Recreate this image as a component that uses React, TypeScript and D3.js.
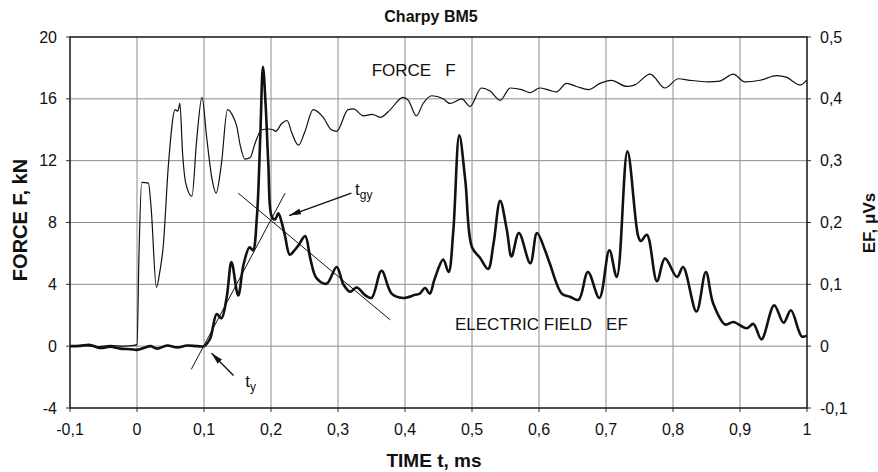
import React from "react";
import * as d3 from "d3";

const forceT = [-0.1, -0.08, -0.06, -0.04, -0.02, -0.005, 0.0, 0.003, 0.007, 0.017, 0.021, 0.029, 0.034, 0.039, 0.047, 0.057, 0.061, 0.064, 0.068, 0.073, 0.082, 0.089, 0.097, 0.104, 0.112, 0.118, 0.126, 0.135, 0.144, 0.149, 0.154, 0.161, 0.169, 0.176, 0.186, 0.196, 0.203, 0.207, 0.216, 0.224, 0.231, 0.241, 0.25, 0.263, 0.278, 0.29, 0.298, 0.315, 0.323, 0.338, 0.351, 0.363, 0.378, 0.397, 0.405, 0.417, 0.427, 0.44, 0.457, 0.467, 0.485, 0.497, 0.514, 0.527, 0.542, 0.557, 0.574, 0.587, 0.601, 0.616, 0.626, 0.641, 0.656, 0.674, 0.691, 0.708, 0.731, 0.743, 0.766, 0.788, 0.808, 0.825, 0.853, 0.87, 0.89, 0.907, 0.93, 0.955, 0.969, 0.99, 1.0];
const forceKN = [0.0, 0.05, -0.05, 0.05, 0.0, 0.05, 0.1, 6, 10.6, 10.55, 9, 3.8, 4.8, 6.4, 11.8, 15.3, 15.2, 15.7, 12.5, 10.5, 9.7, 13.3, 16.1, 13.5, 10.8, 9.9, 11.8, 15.3, 14.8, 14.2, 13.0, 12.1, 12.2, 13.1, 14.0, 14.05, 14.0, 13.9, 14.4, 14.6, 13.8, 13.0, 13.8, 15.3, 14.8, 14.0, 13.9, 15.3, 15.35, 14.9, 15.0, 14.8, 15.3, 16.1, 15.9, 14.9, 15.7, 16.2, 16.0, 15.7, 16.0, 15.5, 16.7, 16.5, 15.9, 16.7, 16.6, 16.4, 16.7, 16.55, 16.45, 17.0, 16.8, 16.6, 17.0, 17.2, 16.8, 16.9, 17.6, 16.7, 17.3, 17.2, 17.1, 17.15, 17.6, 17.1, 17.2, 17.5, 17.4, 16.9, 17.25];

const efT = [-0.1, -0.085, -0.07, -0.055, -0.04, -0.025, -0.01, 0.0, 0.01, 0.02, 0.03, 0.045, 0.06, 0.075, 0.09, 0.1, 0.109, 0.119, 0.126, 0.134, 0.141, 0.151, 0.159, 0.168, 0.173, 0.179, 0.184, 0.188, 0.192, 0.196, 0.201, 0.206, 0.211, 0.216, 0.221, 0.228, 0.235, 0.241, 0.251, 0.259, 0.268, 0.283, 0.298, 0.308, 0.318, 0.328, 0.34, 0.35, 0.365, 0.38, 0.397, 0.415, 0.422, 0.43, 0.437, 0.444, 0.457, 0.465, 0.472, 0.481, 0.49, 0.5, 0.512, 0.524, 0.532, 0.542, 0.552, 0.559, 0.57, 0.587, 0.597, 0.609, 0.616, 0.634, 0.646, 0.659, 0.673, 0.69, 0.705, 0.716, 0.732, 0.748, 0.752, 0.761, 0.776, 0.788, 0.806, 0.815, 0.835, 0.849, 0.86, 0.878, 0.89, 0.91, 0.92, 0.932, 0.951, 0.965, 0.976, 0.992, 1.0];
const efUVs = [0.0, 0.0005, 0.002, -0.003, -0.001, -0.004, -0.005, -0.006, -0.003, 0.0, -0.004, 0.001, -0.002, 0.001, 0.0, 0.0, 0.012, 0.052, 0.045, 0.08, 0.136, 0.082, 0.132, 0.16, 0.155, 0.21, 0.34, 0.452, 0.39, 0.295, 0.21, 0.205, 0.215, 0.2, 0.178, 0.148, 0.155, 0.163, 0.178, 0.14, 0.11, 0.101, 0.128, 0.1, 0.088, 0.095, 0.083, 0.078, 0.122, 0.085, 0.078, 0.083, 0.085, 0.094, 0.085, 0.108, 0.14, 0.12, 0.185, 0.341, 0.268, 0.16, 0.143, 0.125, 0.165, 0.235, 0.188, 0.145, 0.183, 0.134, 0.183, 0.155, 0.134, 0.085, 0.08, 0.075, 0.12, 0.078, 0.155, 0.112, 0.315, 0.178, 0.17, 0.18, 0.105, 0.142, 0.112, 0.128, 0.056, 0.12, 0.069, 0.035, 0.039, 0.029, 0.036, 0.011, 0.066, 0.038, 0.058, 0.016, 0.017];

const xTicks = [-0.1, 0, 0.1, 0.2, 0.3, 0.4, 0.5, 0.6, 0.7, 0.8, 0.9, 1];
const yLeftTicks = [-4, 0, 4, 8, 12, 16, 20];
const yRightTicks = [-0.1, 0, 0.1, 0.2, 0.3, 0.4, 0.5];

// annotation geometry in data units (t ms, F kN)
const tangentYield = [[0.081, -1.5], [0.221, 9.9]];
const tangentGy = [[0.151, 9.9], [0.378, 1.7]];
const arrowGy = [[0.32, 9.9], [0.227, 8.45]];
const arrowY = [[0.144, -1.9], [0.111, -0.45]];
const labelGy = [0.3255, 9.75];
const labelY = [0.1615, -2.65];
const labelForce = [0.3503, 17.48];
const labelEF = [0.4746, 1.05];

const W = 878, H = 472;
const L = 70, R = 807, T = 37, B = 408;

export default function App() {
  const x = d3.scaleLinear().domain([-0.1, 1]).range([L, R]);
  const yL = d3.scaleLinear().domain([-4, 20]).range([B, T]);
  const yR = d3.scaleLinear().domain([-0.1, 0.5]).range([B, T]);
  const loc = d3.formatLocale({ decimal: ",", thousands: ".", grouping: [3], currency: ["", ""], minus: "-" });
  const fmt = (v: number) => loc.format("")(Math.round(v * 10) / 10);

  const forceLine = d3.line<number>().x((_, i) => x(forceT[i])).y((d) => yL(d)).curve(d3.curveMonotoneX);
  const efLine = d3.line<number>().x((_, i) => x(efT[i])).y((d) => yR(d)).curve(d3.curveCatmullRom.alpha(0.5));
  const seg = (p: number[][]) => d3.line<number[]>().x((d) => x(d[0])).y((d) => yL(d[1]))(p) as string;

  const font = "Arial, 'Liberation Sans', Helvetica, sans-serif";
  const grid = "#8c8c8c";

  return (
    <svg width={W} height={H} style={{ position: "absolute", left: 0, top: 0, background: "#fff" }} fontFamily={font}>
      <defs>
        <marker id="ah" viewBox="0 0 12 6" refX="12" refY="3" markerWidth="12" markerHeight="6" markerUnits="userSpaceOnUse" orient="auto">
          <path d="M0,0 L12,3 L0,6 Z" fill="#111" />
        </marker>
      </defs>
      <rect x={0} y={0} width={W} height={H} fill="#fff" />
      {/* grid */}
      {xTicks.slice(1, -1).map((t) => (
        <line key={"gx" + t} x1={x(t)} x2={x(t)} y1={T} y2={B} stroke={grid} strokeWidth={1} />
      ))}
      {yLeftTicks.slice(1, -1).map((v) => (
        <line key={"gy" + v} x1={L} x2={R} y1={yL(v)} y2={yL(v)} stroke={grid} strokeWidth={1} />
      ))}
      {/* ticks */}
      {xTicks.map((t) => (
        <line key={"tx" + t} x1={x(t)} x2={x(t)} y1={B} y2={B + 4} stroke="#333" />
      ))}
      {yLeftTicks.map((v) => (
        <line key={"tl" + v} x1={L - 4} x2={L} y1={yL(v)} y2={yL(v)} stroke="#333" />
      ))}
      {yRightTicks.map((v) => (
        <line key={"tr" + v} x1={R} x2={R + 4} y1={yR(v)} y2={yR(v)} stroke="#333" />
      ))}
      {/* curves */}
      <path d={forceLine(forceKN) as string} fill="none" stroke="#111" strokeWidth={1.2} strokeLinejoin="round" />
      <path d={efLine(efUVs) as string} fill="none" stroke="#111" strokeWidth={2.6} strokeLinejoin="round" />
      {/* tangents & arrows */}
      <path d={seg(tangentYield)} stroke="#111" strokeWidth={1} fill="none" />
      <path d={seg(tangentGy)} stroke="#111" strokeWidth={1} fill="none" />
      <path d={seg(arrowGy)} stroke="#111" strokeWidth={1.4} fill="none" markerEnd="url(#ah)" />
      <path d={seg(arrowY)} stroke="#111" strokeWidth={1.4} fill="none" markerEnd="url(#ah)" />
      {/* frame */}
      <rect x={L} y={T} width={R - L} height={B - T} fill="none" stroke="#222" strokeWidth={1.6} />
      {/* tick labels */}
      {xTicks.map((t) => (
        <text key={"lx" + t} x={x(t)} y={435} textAnchor="middle" fontSize={16} fill="#111">{fmt(t)}</text>
      ))}
      {yLeftTicks.map((v) => (
        <text key={"ll" + v} x={57} y={yL(v)} dy="0.35em" textAnchor="end" fontSize={16} fill="#111">{String(v)}</text>
      ))}
      {yRightTicks.map((v) => (
        <text key={"lr" + v} x={820} y={yR(v)} dy="0.35em" textAnchor="start" fontSize={16} fill="#111">{fmt(v)}</text>
      ))}
      {/* annotation labels */}
      <text x={x(labelForce[0])} y={yL(labelForce[1])} fontSize={17} fill="#111" style={{ whiteSpace: "pre" }}>{"FORCE   F"}</text>
      <text x={x(labelEF[0])} y={yL(labelEF[1])} fontSize={17} fill="#111" style={{ whiteSpace: "pre" }}>{"ELECTRIC FIELD   EF"}</text>
      <text x={x(labelGy[0])} y={yL(labelGy[1])} fontSize={17} fill="#111">t<tspan fontSize={12} dy={4}>gy</tspan></text>
      <text x={x(labelY[0])} y={yL(labelY[1])} fontSize={17} fill="#111">t<tspan fontSize={12} dy={4}>y</tspan></text>
      {/* titles */}
      <text x={431} y={22} textAnchor="middle" fontSize={16} fontWeight="bold" fill="#111">Charpy BM5</text>
      <text x={434} y={467} textAnchor="middle" fontSize={19} fontWeight="bold" fill="#111">TIME t, ms</text>
      <text transform="translate(26.5,220) rotate(-90)" textAnchor="middle" fontSize={20} fontWeight="bold" fill="#111">FORCE F, kN</text>
      <text transform="translate(875,223) rotate(-90)" textAnchor="middle" fontSize={17} fontWeight="bold" fill="#111">EF, μVs</text>
    </svg>
  );
}
